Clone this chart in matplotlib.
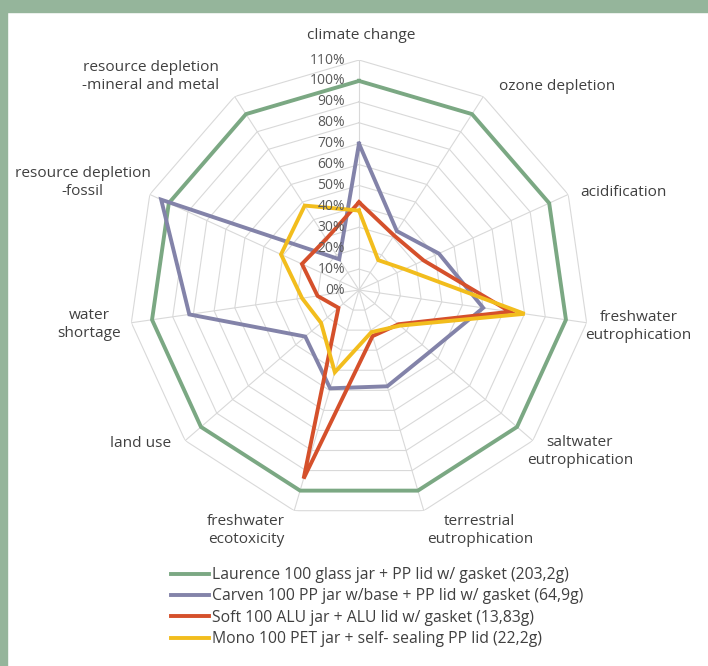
import numpy as np
import matplotlib.pyplot as plt
from matplotlib.lines import Line2D
from matplotlib.patches import Rectangle

# impact categories, clockwise from the top
categories = ["climate change", "ozone depletion", "acidification",
              "freshwater\neutrophication", "saltwater\neutrophication",
              "terrestrial\neutrophication", "freshwater\necotoxicity",
              "land use", "water\nshortage", "resource depletion\n-fossil",
              "resource depletion\n-mineral and metal"]

# relative impact (1.0 = 100%)
laurence = [1.00, 1.00, 1.00, 1.00, 1.00, 1.00, 1.00, 1.00, 1.00, 1.00, 1.00]
carven = [0.70, 0.335, 0.42, 0.60, 0.45, 0.48, 0.49, 0.34, 0.82, 1.04, 0.175]
soft = [0.42, 0.31, 0.34, 0.73, 0.25, 0.23, 0.94, 0.13, 0.20, 0.30, 0.29]
mono = [0.38, 0.17, 0.24, 0.80, 0.26, 0.21, 0.41, 0.24, 0.275, 0.41, 0.48]

series_names = ["Laurence 100 glass jar + PP lid w/ gasket (203,2g)",
                "Carven 100 PP jar w/base + PP lid w/ gasket (64,9g)",
                "Soft 100 ALU jar + ALU lid w/ gasket (13,83g)",
                "Mono 100 PET jar + self- sealing PP lid (22,2g)"]
colors = ["#7ba883", "#8383a9", "#d5502b", "#f2bd1d"]

tick_levels = [0.0, 0.1, 0.2, 0.3, 0.4, 0.5, 0.6, 0.7, 0.8, 0.9, 1.0, 1.1]

plt.rcParams['font.family'] = ['Open Sans', 'DejaVu Sans']
text_color = "#404040"

fig = plt.figure(figsize=(7.08, 6.66), dpi=100)

# green frame on top and left
fig.patches.append(Rectangle((0, 1 - 12/666), 1, 12/666, transform=fig.transFigure,
                             color="#95b59b", zorder=0))
fig.patches.append(Rectangle((0, 0), 7/708, 1, transform=fig.transFigure,
                             color="#95b59b", zorder=0))

ax = fig.add_axes([0.1822, 0.2192, 0.6497, 0.6907], projection="polar")
ax.set_theta_zero_location("N")
ax.set_theta_direction(-1)
ax.set_ylim(0, 1.1)
ax.grid(False)
ax.spines["polar"].set_visible(False)
ax.set_xticks([])
ax.set_yticks([])
ax.patch.set_alpha(0)

n = len(categories)
angles = np.arange(n) * 2 * np.pi / n
closed = np.append(angles, angles[0])

# polygon web
for lv in tick_levels[1:]:
    ax.plot(closed, [lv] * (n + 1), color="#d9d9d9", lw=0.8, zorder=1)
for a in angles:
    ax.plot([a, a], [0, tick_levels[-1]], color="#d9d9d9", lw=0.8, zorder=1)

# series
for vals, col in zip([laurence, carven, soft, mono], colors):
    ax.plot(closed, vals + vals[:1], color=col, lw=2.8, zorder=3,
            solid_joinstyle="miter")

# percent labels along the top spoke
for lv in tick_levels:
    ax.annotate(f"{round(lv * 100)}%", xy=(0, lv), xytext=(-14, 0),
                textcoords="offset pixels", ha="right", va="center",
                color="#595959", fontsize=10, zorder=4)

# category labels, offset from the end of each spoke
label_offsets = [(2, 25), (74, 10), (55, 2), (52, -4), (47, -11), (56, -20),
                 (-48, -20), (-45, -3), (-42, -2), (-67, 12), (-84, 20)]
for a, name, (dx, dy) in zip(angles, categories, label_offsets):
    ax.annotate(name, xy=(a, tick_levels[-1]), xytext=(dx, dy),
                textcoords="offset pixels", ha="center", va="center",
                multialignment="center", linespacing=1.25,
                color=text_color, fontsize=11.1, annotation_clip=False)

handles = [Line2D([], [], color=c, lw=2.8) for c in colors]
fig.legend(handles, series_names, loc="upper left",
           bbox_to_anchor=(171/708, (666 - 567)/666), frameon=False,
           fontsize=11.3, handlelength=2.42, handletextpad=0.2,
           labelspacing=0.35, borderpad=0, borderaxespad=0,
           labelcolor=text_color)

fig.savefig("out.png", dpi=100)
